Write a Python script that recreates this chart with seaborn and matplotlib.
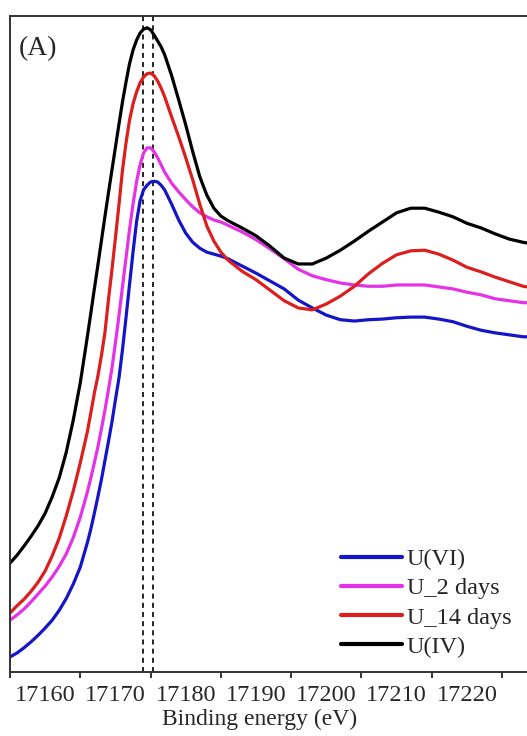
#!/usr/bin/env python3
"""
U L3-edge XANES spectra (panel A) - U(VI), U_2 days, U_14 days, U(IV)
"""

import pandas as pd
import matplotlib
matplotlib.use('Agg')
import matplotlib.pyplot as plt
from matplotlib.ticker import MultipleLocator
import seaborn as sns

# Energy grid (eV) shared by all spectra
energy = [17155, 17156, 17157, 17158, 17159, 17160, 17161, 17162, 17163, 17164,
          17165, 17166,
          17166.5, 17167, 17167.5, 17168, 17168.5, 17169, 17169.5, 17170, 17170.5,
          17171, 17171.5, 17172, 17172.5, 17173, 17173.5, 17174, 17174.5, 17175,
          17175.5, 17176, 17176.5, 17177,
          17178, 17179, 17180, 17181, 17182, 17183, 17184, 17185, 17186,
          17188, 17190, 17192, 17194, 17196, 17198, 17200, 17202, 17204, 17206,
          17208, 17210, 17212, 17214, 17216, 17218, 17220, 17222, 17224, 17226,
          17228, 17228.6]

# Normalized intensity (a.u.)
u6 = [0.023, 0.029, 0.037, 0.046, 0.056, 0.067, 0.079, 0.094, 0.112, 0.134,
      0.160, 0.197,
      0.218, 0.242, 0.267, 0.293, 0.322, 0.351, 0.381, 0.415, 0.448,
      0.491, 0.540, 0.590, 0.640, 0.686, 0.718, 0.735, 0.742, 0.747,
      0.748, 0.747, 0.742, 0.735,
      0.713, 0.689, 0.669, 0.655, 0.646, 0.640, 0.637, 0.634, 0.630,
      0.619, 0.608, 0.596, 0.584, 0.567, 0.555, 0.544, 0.537, 0.535, 0.537,
      0.538, 0.540, 0.541, 0.541, 0.538, 0.534, 0.527, 0.521, 0.517, 0.514,
      0.511, 0.511]

u2d = [0.079, 0.087, 0.096, 0.107, 0.119, 0.131, 0.145, 0.161, 0.180, 0.205,
       0.236, 0.274,
       0.296, 0.319, 0.343, 0.370, 0.399, 0.430, 0.463, 0.502, 0.543,
       0.587, 0.631, 0.674, 0.713, 0.747, 0.773, 0.791, 0.799, 0.799,
       0.793, 0.784, 0.773, 0.762,
       0.745, 0.732, 0.720, 0.709, 0.700, 0.694, 0.689, 0.686, 0.681,
       0.671, 0.659, 0.645, 0.630, 0.614, 0.604, 0.598, 0.593, 0.590, 0.588,
       0.588, 0.590, 0.590, 0.590, 0.587, 0.584, 0.579, 0.575, 0.569, 0.566,
       0.563, 0.563]

u14d = [0.090, 0.101, 0.111, 0.123, 0.137, 0.154, 0.177, 0.204, 0.238, 0.276,
        0.319, 0.366,
        0.395, 0.425, 0.451, 0.482, 0.517, 0.567, 0.613, 0.662, 0.712,
        0.765, 0.806, 0.841, 0.866, 0.884, 0.898, 0.907, 0.912, 0.913,
        0.909, 0.901, 0.890, 0.877,
        0.846, 0.816, 0.784, 0.750, 0.713, 0.680, 0.657, 0.640, 0.628,
        0.611, 0.598, 0.582, 0.566, 0.555, 0.552, 0.561, 0.573, 0.588, 0.607,
        0.623, 0.636, 0.642, 0.643, 0.637, 0.628, 0.617, 0.610, 0.602, 0.595,
        0.588, 0.587]

u4 = [0.166, 0.178, 0.192, 0.207, 0.223, 0.242, 0.267, 0.296, 0.335, 0.384,
      0.441, 0.511,
      0.547, 0.584, 0.620, 0.657, 0.694, 0.730, 0.765, 0.800, 0.835,
      0.869, 0.899, 0.927, 0.948, 0.963, 0.974, 0.980, 0.982, 0.979,
      0.971, 0.962, 0.953, 0.941,
      0.909, 0.872, 0.834, 0.793, 0.755, 0.727, 0.707, 0.695, 0.688,
      0.677, 0.665, 0.649, 0.631, 0.622, 0.622, 0.631, 0.643, 0.657, 0.672,
      0.686, 0.700, 0.707, 0.707, 0.701, 0.694, 0.684, 0.677, 0.668, 0.660,
      0.655, 0.654]

samples = ['U(VI)', 'U_2 days', 'U_14 days', 'U(IV)']
colors = ['#1414c8', '#e632e6', '#dc1e1e', '#000000']
edge_lines = [17173.9, 17175.4]
xticks = [17160, 17170, 17180, 17190, 17200, 17210, 17220]

df = pd.concat([
    pd.DataFrame({'energy': energy, 'intensity': vals, 'sample': name})
    for name, vals in zip(samples, [u6, u2d, u14d, u4])
], ignore_index=True)

sns.set_style('white')
plt.rcParams['font.family'] = ['Liberation Serif', 'DejaVu Serif']

fig = plt.figure(figsize=(5.27, 7.36), dpi=100)
# axes run past the right edge: the original panel is cropped there
ax = fig.add_axes([10 / 527, 64 / 736, 530 / 527, 656 / 736])

sns.lineplot(data=df, x='energy', y='intensity', hue='sample', hue_order=samples,
             palette=colors, linewidth=2.3, ax=ax, sort=False, legend=True)

for e in edge_lines:
    ax.axvline(e, color='black', linestyle=(0, (3, 2.5)), linewidth=1.2, zorder=1)

ax.set_xlim(17155.0, 17230.4)
ax.set_ylim(0, 1.0)
ax.set_xticks(xticks)
ax.xaxis.set_minor_locator(MultipleLocator(5))
ax.set_yticks([])
ax.set_ylabel('')
ax.set_xlabel('Binding energy (eV)', fontsize=17)
ax.xaxis.set_label_coords(0.470, -0.0565)

ax.tick_params(axis='x', which='major', direction='out', length=7, width=1.3,
               labelsize=17.5, pad=2.5, color='black')
ax.tick_params(axis='x', which='minor', direction='out', length=4, width=1.1,
               color='black', bottom=True)

for side in ['left', 'bottom', 'top']:
    ax.spines[side].set_color('#333333')
    ax.spines[side].set_linewidth(1.4)
ax.spines['right'].set_visible(False)

ax.text(0.017, 0.970, '(A)', transform=ax.transAxes, fontsize=20,
        va='top', ha='left')

leg = ax.legend(loc='lower left', bbox_to_anchor=(341 / 527, 78 / 736),
                bbox_transform=fig.transFigure, frameon=False, fontsize=17.5,
                handlelength=2.5, handletextpad=0.2, labelspacing=0.3,
                borderpad=0, borderaxespad=0)
for line in leg.get_lines():
    line.set_linewidth(3)

fig.savefig('out.png', dpi=100)
